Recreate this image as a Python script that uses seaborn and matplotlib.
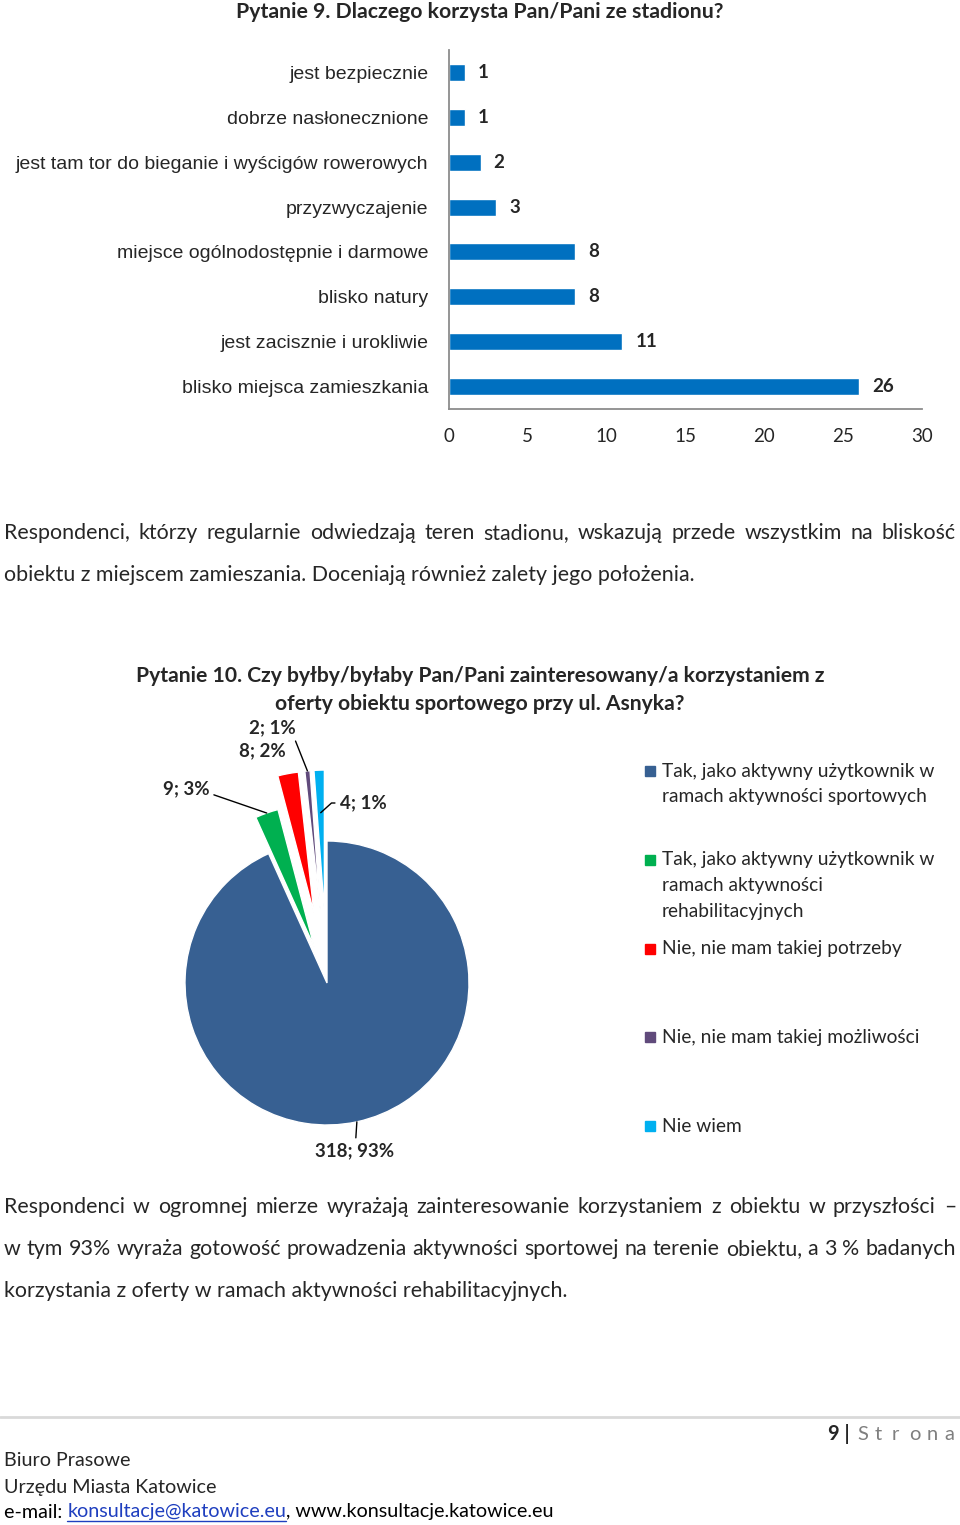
import numpy as np
import pandas as pd
import matplotlib
matplotlib.use('Agg')
from matplotlib import pyplot as plt
from matplotlib.patches import Rectangle
from matplotlib.lines import Line2D
import seaborn as sns

# ---- data ----
reasons = ['jest bezpiecznie', 'dobrze nasłonecznione',
           'jest tam tor do bieganie i wyścigów rowerowych', 'przyzwyczajenie',
           'miejsce ogólnodostępnie i darmowe', 'blisko natury',
           'jest zacisznie i urokliwie', 'blisko miejsca zamieszkania']
reason_counts = [1, 1, 2, 3, 8, 8, 11, 26]

answers = ['Tak, jako aktywny użytkownik w\nramach aktywności sportowych',
           'Tak, jako aktywny użytkownik w\nramach aktywności\nrehabilitacyjnych',
           'Nie, nie mam takiej potrzeby',
           'Nie, nie mam takiej możliwości',
           'Nie wiem']
answer_counts = [318, 9, 8, 2, 4]
answer_pcts = [93, 3, 2, 1, 1]
answer_colors = ['#376092', '#00B050', '#FF0000', '#604A7B', '#00B0F0']
answer_explode = [0, 0.27, 0.5, 0.5, 0.5]

para1 = ['Respondenci, którzy regularnie odwiedzają teren stadionu, wskazują przede wszystkim na bliskość',
         'obiektu z miejscem zamieszania. Doceniają również zalety jego położenia.']
para2 = ['Respondenci w ogromnej mierze wyrażają zainteresowanie korzystaniem z obiektu w przyszłości –',
         'w tym 93% wyraża gotowość prowadzenia aktywności sportowej na terenie obiektu, a 3 % badanych',
         'korzystania z oferty w ramach aktywności rehabilitacyjnych.']

sns.set_style('white')
plt.rcParams['font.family'] = ['Lato', 'DejaVu Sans']

W, H = 960, 1525
fig = plt.figure(figsize=(9.6, 15.25), dpi=100)


def fx(px):
    return px / W


def fy(py):
    return 1 - py / H


renderer = fig.canvas.get_renderer()


def justify(lines, y0, step, size, x0=4, x1=956):
    # words sit on a common baseline, spread to fill the line (last line left aligned)
    for k, line in enumerate(lines):
        y = fy(y0 + k * step + 6)
        if k == len(lines) - 1:
            fig.text(fx(x0), y, line, fontsize=size, va='baseline', ha='left')
            continue
        words = line.split(' ')
        objs = [fig.text(0, y, w, fontsize=size, va='baseline', ha='left') for w in words]
        widths = [o.get_window_extent(renderer).width for o in objs]
        gap = (x1 - x0 - sum(widths)) / (len(words) - 1)
        x = x0
        for o, w in zip(objs, widths):
            o.set_x(fx(x))
            x += w + gap


# ---- chart 1 ----
fig.text(0.5, fy(12), 'Pytanie 9. Dlaczego korzysta Pan/Pani ze stadionu?',
         ha='center', va='center', fontsize=15.3, fontweight='bold')

ax1 = fig.add_axes([fx(449), fy(409), fx(922) - fx(449), (409 - 50) / H])
df = pd.DataFrame({'reason': reasons, 'count': reason_counts})
sns.barplot(data=df, y='reason', x='count', color='#0070C0', saturation=1,
            width=0.38, ax=ax1)
ax1.set_xlim(0, 30)
ax1.set_ylim(len(reasons) - 0.5, -0.5)
ax1.set_xticks(range(0, 31, 5))
ax1.set_xlabel('')
ax1.set_ylabel('')
for s in ['top', 'right']:
    ax1.spines[s].set_visible(False)
for s in ['left', 'bottom']:
    ax1.spines[s].set_color('#8c8c8c')
    ax1.spines[s].set_linewidth(1.3)
ax1.tick_params(axis='x', length=0, pad=14, labelsize=13.5)
ax1.tick_params(axis='y', length=0, pad=15)
for lab in ax1.get_yticklabels():
    lab.set_fontfamily(['Liberation Sans', 'DejaVu Sans'])
    lab.set_fontsize(14)
for i, v in enumerate(reason_counts):
    ax1.annotate(str(v), (v, i), xytext=(9.5, 0), textcoords='offset points',
                 ha='left', va='center', fontsize=13.5, fontweight='bold')

justify(para1, 533, 42, 15.4)

# ---- chart 2 ----
fig.text(0.5, fy(676), 'Pytanie 10. Czy byłby/byłaby Pan/Pani zainteresowany/a korzystaniem z',
         ha='center', va='center', fontsize=15.2, fontweight='bold')
fig.text(0.5, fy(704), 'oferty obiektu sportowego przy ul. Asnyka?',
         ha='center', va='center', fontsize=15.2, fontweight='bold')

cx, cy, R = 327, 983, 142
bl, br, bt, bb = 100, 554, 700, 1180
ax2 = fig.add_axes([fx(bl), fy(bb), fx(br) - fx(bl), (bb - bt) / H])
wedges, _ = ax2.pie(answer_counts, colors=answer_colors, explode=answer_explode,
                    startangle=90, counterclock=False, radius=1,
                    wedgeprops=dict(edgecolor='white', linewidth=1))
ax2.set_xlim((bl - cx) / R, (br - cx) / R)
ax2.set_ylim((cy - bb) / R, (cy - bt) / R)


def pdat(px, py):
    return ((px - cx) / R, (cy - py) / R)


def wedge_point(w, frac):
    th = np.deg2rad((w.theta1 + w.theta2) / 2)
    c = np.array(w.center)
    return tuple(c + frac * w.r * np.array([np.cos(th), np.sin(th)]))


lab_pos = [(355, 1151), (186, 789), (262, 751), (272, 728), (363, 803)]
lab_frac = [1.0, 1.0, None, 1.0, 0.7]
lab_conn = ['arc3', 'angle,angleA=0,angleB=-19,rad=0', None, 'arc3',
            'angle,angleA=0,angleB=42,rad=0']
lab_rel = [(0.5, 0.5), (0.5, 0.5), None, (0.95, 0.1), (0.5, 0.5)]
for w, n, p, pos, fr, conn, rel in zip(wedges, answer_counts, answer_pcts, lab_pos,
                                       lab_frac, lab_conn, lab_rel):
    txt = f'{n}; {p}%'
    if fr is None:
        ax2.text(*pdat(*pos), txt, ha='center', va='center', fontsize=13.5, fontweight='bold')
    else:
        ax2.annotate(txt, wedge_point(w, fr), xytext=pdat(*pos), ha='center', va='center',
                     fontsize=13.5, fontweight='bold',
                     arrowprops=dict(arrowstyle='-', color='black', lw=1, relpos=rel,
                                     shrinkA=1, shrinkB=0, connectionstyle=conn))

leg_y = [771, 860, 949, 1037, 1126]
for lab, col, y in zip(answers, answer_colors, leg_y):
    fig.add_artist(Rectangle((fx(645), fy(y + 5)), 10 / W, 10 / H, color=col,
                             transform=fig.transFigure))
    for j, line in enumerate(lab.split('\n')):
        fig.text(fx(662), fy(y + j * 25.5), line, ha='left', va='center', fontsize=13.8)

justify(para2, 1207, 42, 15.4)

# ---- footer ----
fig.add_artist(Line2D([0, 1], [fy(1417), fy(1417)], color='#d9d9d9', lw=2,
                      transform=fig.transFigure))
fig.text(fx(850), fy(1434), '9 |', ha='right', va='center', fontsize=14.5, fontweight='bold')
for k, ch in enumerate('Strona'):
    fig.text(fx(857 + 17.5 * k), fy(1440), ch, ha='left', va='baseline', fontsize=14.5,
             color='#7f7f7f')
fig.text(fx(4), fy(1461), 'Biuro Prasowe', ha='left', va='center', fontsize=14.2)
fig.text(fx(4), fy(1487), 'Urzędu Miasta Katowice', ha='left', va='center', fontsize=14.2)

x = 4
for part, col in [('e-mail: ', 'black'), ('konsultacje@katowice.eu', '#1F3FBF'),
                  (', www.konsultacje.katowice.eu', 'black')]:
    t = fig.text(fx(x), fy(1512), part, ha='left', va='center', fontsize=14.2, color=col)
    bb_ = t.get_window_extent(renderer)
    if col != 'black':
        fig.add_artist(Line2D([fx(x), fx(x + bb_.width)], [fy(1521), fy(1521)], color=col,
                              lw=1, transform=fig.transFigure))
    x += bb_.width

fig.savefig('out.png', dpi=100)
